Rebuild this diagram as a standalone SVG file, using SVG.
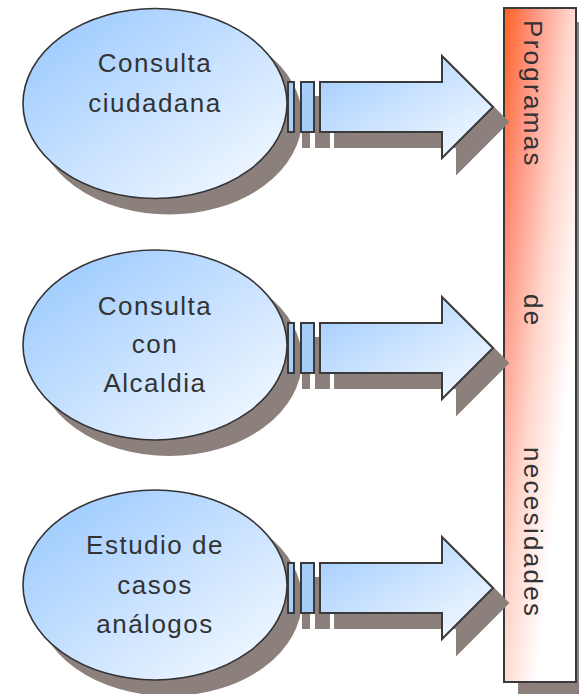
<svg xmlns="http://www.w3.org/2000/svg" width="579" height="694" viewBox="0 0 579 694">
<defs>
<linearGradient id="gBlue" x1="0" y1="0" x2="1" y2="1">
<stop offset="0" stop-color="#94C6FF"/>
<stop offset="1" stop-color="#FAFCFF"/>
</linearGradient>
<linearGradient id="gArrow" x1="0" y1="0" x2="1" y2="1">
<stop offset="0" stop-color="#9ECBFF"/>
<stop offset="1" stop-color="#FAFCFF"/>
</linearGradient>
<linearGradient id="gRed" gradientUnits="userSpaceOnUse" x1="503" y1="8" x2="607" y2="19">
<stop offset="0" stop-color="#FF5F1C"/>
<stop offset="0.3" stop-color="#FF9480"/>
<stop offset="0.65" stop-color="#FFD6CC"/>
<stop offset="1" stop-color="#FFFFFF"/>
</linearGradient>
</defs>
<style>
.sh{fill:#8C807C;stroke:#8C807C;stroke-width:2}
.el{fill:url(#gBlue);stroke:#333;stroke-width:1.6}
.ar{fill:url(#gArrow);stroke:#3A3A3A;stroke-width:2}
.bar{fill:#A6CEF8;stroke:#3A3A3A;stroke-width:2}
.tx{font-family:"Liberation Sans",Arial,sans-serif;font-size:26px;fill:#333;text-anchor:middle;letter-spacing:1.5px}
.vt{font-family:"Liberation Sans",Arial,sans-serif;font-size:26px;fill:#333;letter-spacing:2.3px}
</style>
<g id="node-programas">
<rect class="sh" x="519" y="23" width="74" height="690"/>
<rect x="504" y="8" width="72" height="674" fill="url(#gRed)" stroke="#3A3A3A" stroke-width="2"/>
<text class="vt" transform="translate(524,20) rotate(90)">Programas</text>
<text class="vt" transform="translate(524,294) rotate(90)">de</text>
<text class="vt" transform="translate(524,447) rotate(90)">necesidades</text>
</g>
<g id="node-consulta-ciudadana">
<ellipse class="sh" cx="169" cy="118.5" rx="132" ry="95"/>
<ellipse class="el" cx="155" cy="103.5" rx="132" ry="95"/>
<text class="tx" x="155" y="72">Consulta</text>
<text class="tx" x="155" y="112">ciudadana</text>
</g>
<g id="node-consulta-alcaldia">
<ellipse class="sh" cx="169" cy="360" rx="132" ry="95"/>
<ellipse class="el" cx="155" cy="345" rx="132" ry="95"/>
<text class="tx" x="155" y="315">Consulta</text>
<text class="tx" x="155" y="353">con</text>
<text class="tx" x="155" y="392">Alcaldia</text>
</g>
<g id="node-estudio-casos">
<ellipse class="sh" cx="169" cy="600" rx="132" ry="95"/>
<ellipse class="el" cx="155" cy="585" rx="132" ry="95"/>
<text class="tx" x="155" y="554">Estudio de</text>
<text class="tx" x="155" y="594">casos</text>
<text class="tx" x="155" y="633">análogos</text>
</g>
<g id="connectors">
<g id="arrow-1">
<g transform="translate(15,15)">
<rect class="sh" x="288" y="82" width="6" height="50"/>
<rect class="sh" x="301" y="82" width="13" height="50"/>
<path class="sh" d="M320,82 H442 V56 L493,107 L442,158 V132 H320 Z"/>
</g>
<rect class="bar" x="288" y="82" width="6" height="50"/>
<rect class="bar" x="301" y="82" width="13" height="50"/>
<path class="ar" d="M320,82 H442 V56 L493,107 L442,158 V132 H320 Z"/>
</g>
<g id="arrow-2" transform="translate(0,241)">
<g transform="translate(15,15)">
<rect class="sh" x="288" y="82" width="6" height="50"/>
<rect class="sh" x="301" y="82" width="13" height="50"/>
<path class="sh" d="M320,82 H442 V56 L493,107 L442,158 V132 H320 Z"/>
</g>
<rect class="bar" x="288" y="82" width="6" height="50"/>
<rect class="bar" x="301" y="82" width="13" height="50"/>
<path class="ar" d="M320,82 H442 V56 L493,107 L442,158 V132 H320 Z"/>
</g>
<g id="arrow-3" transform="translate(0,481)">
<g transform="translate(15,15)">
<rect class="sh" x="288" y="82" width="6" height="50"/>
<rect class="sh" x="301" y="82" width="13" height="50"/>
<path class="sh" d="M320,82 H442 V56 L493,107 L442,158 V132 H320 Z"/>
</g>
<rect class="bar" x="288" y="82" width="6" height="50"/>
<rect class="bar" x="301" y="82" width="13" height="50"/>
<path class="ar" d="M320,82 H442 V56 L493,107 L442,158 V132 H320 Z"/>
</g>
</g>
</svg>
